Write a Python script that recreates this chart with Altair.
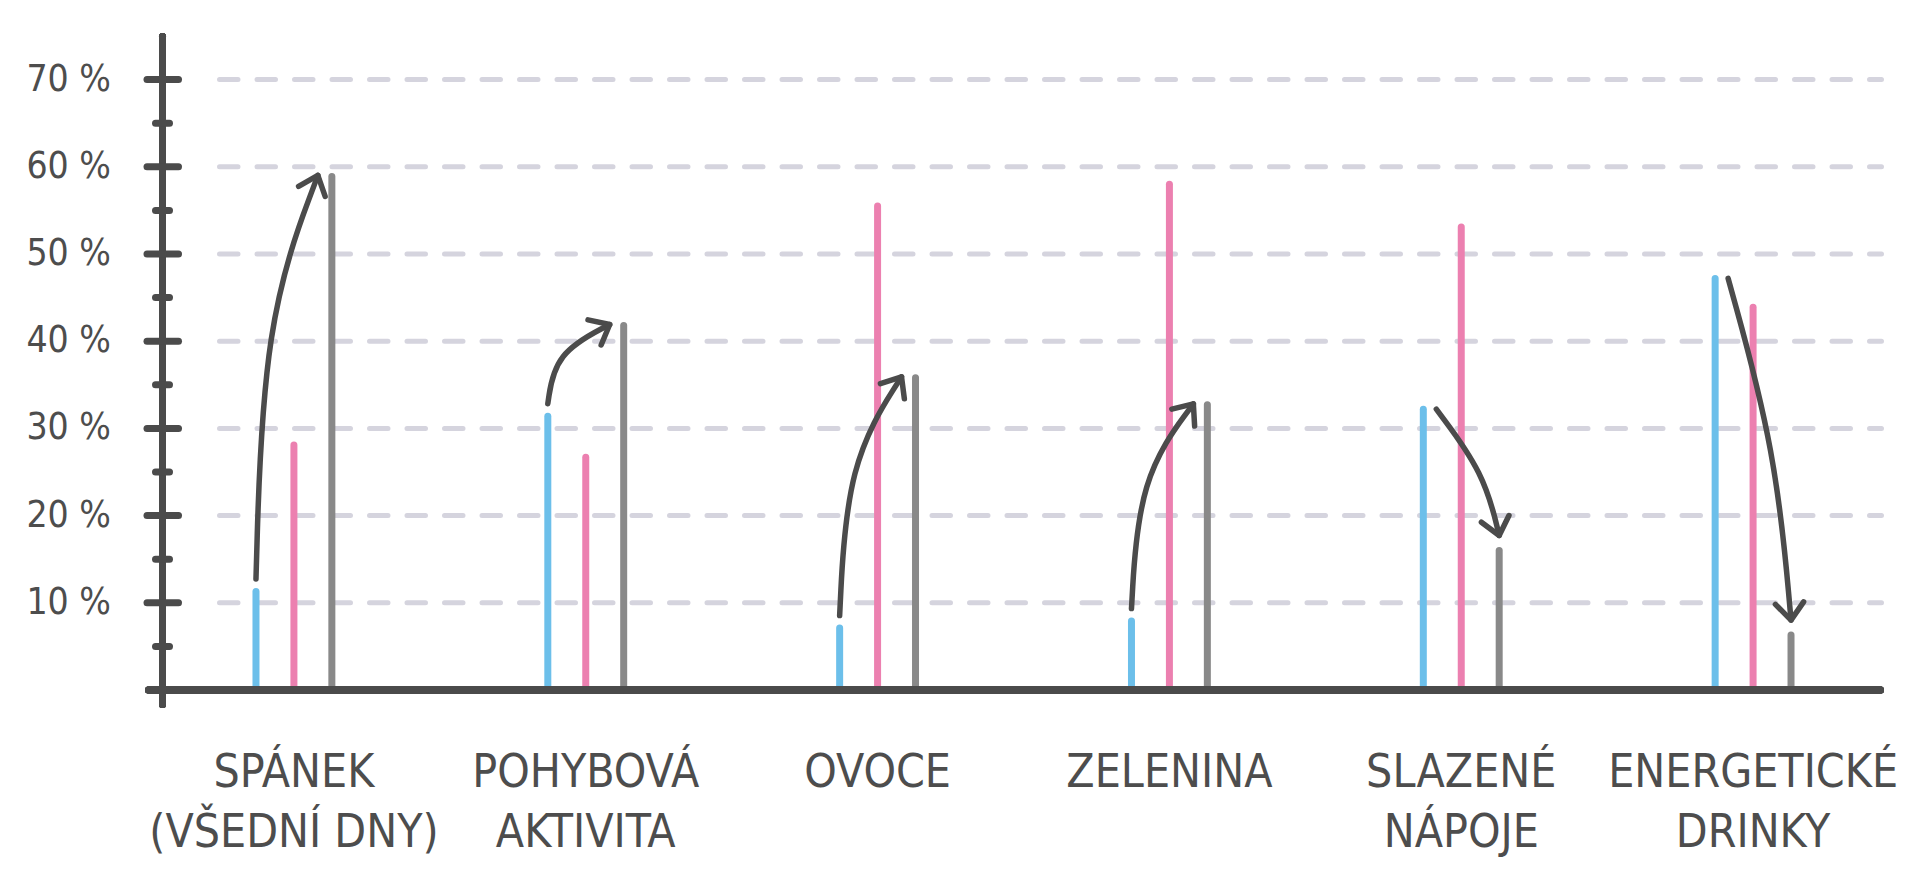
import math
import altair as alt
import pandas as pd

# ---------------- data ----------------
categories = ["SPÁNEK\n(VŠEDNÍ DNY)", "POHYBOVÁ\nAKTIVITA", "OVOCE",
              "ZELENINA", "SLAZENÉ\nNÁPOJE", "ENERGETICKÉ\nDRINKY"]
series_names = ["A", "B", "C"]
values_a = [11.3, 31.4, 7.1, 7.9, 32.2, 47.2]   # blue
values_b = [28.1, 26.7, 55.5, 58.0, 53.1, 43.9]  # pink
values_c = [58.9, 41.8, 35.8, 32.7, 16.0, 6.3]   # gray
y_major = [10, 20, 30, 40, 50, 60, 70]
y_minor = [5, 15, 25, 35, 45, 55, 65]
y_labels = ["10 %", "20 %", "30 %", "40 %", "50 %", "60 %", "70 %"]

# ---------------- style / layout ----------------
W, H = 1751, 654
X_MAX, Y_MAX = 6, 75
OFF = 0.13
FONT = "Liberation Sans Narrow, DejaVu Sans Condensed, Roboto Condensed, Liberation Sans, sans-serif"
INK = "#4b4b4b"
TXT = "#4d4d4d"
GRID = "#d5d4de"
COLORS = ["#6cbfea", "#ec80b0", "#898989"]

PX = W / X_MAX
PY = H / Y_MAX

xs = alt.Scale(domain=[0, X_MAX], nice=False, zero=False)
ys = alt.Scale(domain=[0, Y_MAX], nice=False, zero=False)

# bars table
rows = []
for j, (name, vals) in enumerate(zip(series_names, [values_a, values_b, values_c])):
    for i, v in enumerate(vals):
        rows.append(dict(cat=categories[i], series=name, value=v, xpos=i + 0.5 + (j - 1) * OFF))
bars_df = pd.DataFrame(rows)

cat_df = pd.DataFrame(dict(cat=categories, xc=[i + 0.5 for i in range(len(categories))]))
grid_df = pd.DataFrame(dict(v=y_major))
major_df = pd.DataFrame(dict(v=y_major, label=y_labels))
minor_df = pd.DataFrame(dict(v=y_minor))

# arrows derived from blue -> gray values
def to_px(x, v):
    return x * PX, (Y_MAX - v) * PY

def to_data(px, py):
    return px / PX, Y_MAX - py / PY

arrow_rows, head_rows = [], []
for i in range(len(categories)):
    bx, by = to_px(i + 0.5 - OFF, values_a[i])
    gx, gy = to_px(i + 0.5 + OFF, values_c[i])
    if values_c[i] > values_a[i]:
        p0 = (bx, by - 12.5)
        p2 = (gx - 14, gy - 1)
        a, b = 0.12, 0.64
    else:
        p0 = (bx + 13, by)
        p2 = (gx, gy - 15)
        a, b = 0.76, 0.505
    c = (p0[0] + a * (p2[0] - p0[0]), p0[1] + b * (p2[1] - p0[1]))
    for k, p in enumerate([p0, c, p2]):
        dx, dy = to_data(*p)
        arrow_rows.append(dict(arrow=i, k=k, x=dx, y=dy))
    ang = math.degrees(math.atan2(p2[1] - c[1], p2[0] - c[0])) % 360
    hx, hy = to_data(*p2)
    head_rows.append(dict(arrow=i, x=hx, y=hy, angle=ang))
arrow_df = pd.DataFrame(arrow_rows)
head_df = pd.DataFrame(head_rows)

# ---------------- layers ----------------
grid = alt.Chart(grid_df).mark_rule(
    color=GRID, strokeWidth=5, strokeCap="round", strokeDash=[18.5, 19]
).encode(y=alt.Y("v:Q", scale=ys, axis=None), x=alt.value(71.5), x2=alt.value(1733.5))

bars = alt.Chart(bars_df).mark_rule(strokeWidth=7, strokeCap="round").encode(
    x=alt.X("xpos:Q", scale=xs, axis=None),
    y=alt.Y("value:Q", scale=ys, axis=None),
    y2=alt.Y2(datum=0),
    color=alt.Color("series:N", scale=alt.Scale(domain=series_names, range=COLORS), legend=None),
)

yaxis = alt.Chart(grid_df).mark_rule(color=INK, strokeWidth=7, strokeCap="round").encode(
    x=alt.value(14.5), y=alt.value(0.5), y2=alt.value(668.5))
xaxis = alt.Chart(grid_df).mark_rule(color=INK, strokeWidth=7, strokeCap="round").encode(
    y=alt.value(H), x=alt.value(0.5), x2=alt.value(1732.5))

major = alt.Chart(major_df).mark_rule(color=INK, strokeWidth=7, strokeCap="round").encode(
    y=alt.Y("v:Q", scale=ys, axis=None), x=alt.value(-1), x2=alt.value(30.5))
minor = alt.Chart(minor_df).mark_rule(color=INK, strokeWidth=7, strokeCap="round").encode(
    y=alt.Y("v:Q", scale=ys, axis=None), x=alt.value(7.5), x2=alt.value(21.5))

ylab = alt.Chart(major_df).mark_text(
    align="right", baseline="middle", font=FONT, fontSize=37, color=TXT
).encode(y=alt.Y("v:Q", scale=ys, axis=None), x=alt.value(-37), text="label:N")

xlab = alt.Chart(cat_df).mark_text(
    align="center", baseline="alphabetic", font=FONT, fontSize=46, color=TXT,
    lineBreak="\n", lineHeight=60
).encode(x=alt.X("xc:Q", scale=xs, axis=None), y=alt.value(751), text="cat:N")

arrows = alt.Chart(arrow_df).mark_line(
    interpolate="basis", color=INK, strokeWidth=5.5, strokeCap="round"
).encode(
    x=alt.X("x:Q", scale=xs, axis=None),
    y=alt.Y("y:Q", scale=ys, axis=None),
    detail="arrow:N",
    order="k:Q",
)

CHEVRON = "M -0.77 -0.64 L 0 0 L -0.77 0.64"
heads = alt.Chart(head_df).mark_point(
    shape=CHEVRON, size=1960, filled=False, strokeWidth=5.5, color=INK, opacity=1,
    strokeCap="round", strokeJoin="round"
).encode(
    x=alt.X("x:Q", scale=xs, axis=None),
    y=alt.Y("y:Q", scale=ys, axis=None),
    angle=alt.Angle("angle:Q", scale=None),
)

chart = alt.layer(grid, bars, xaxis, yaxis, major, minor, ylab, xlab, arrows, heads).properties(
    width=W, height=H,
    autosize=alt.AutoSizeParams(type="none"),
    padding={"left": 140, "top": 28, "right": 10, "bottom": 171},
    background="white",
).configure_view(stroke=None)

chart.save("out.html", embed_options={"renderer": "svg", "actions": False})
